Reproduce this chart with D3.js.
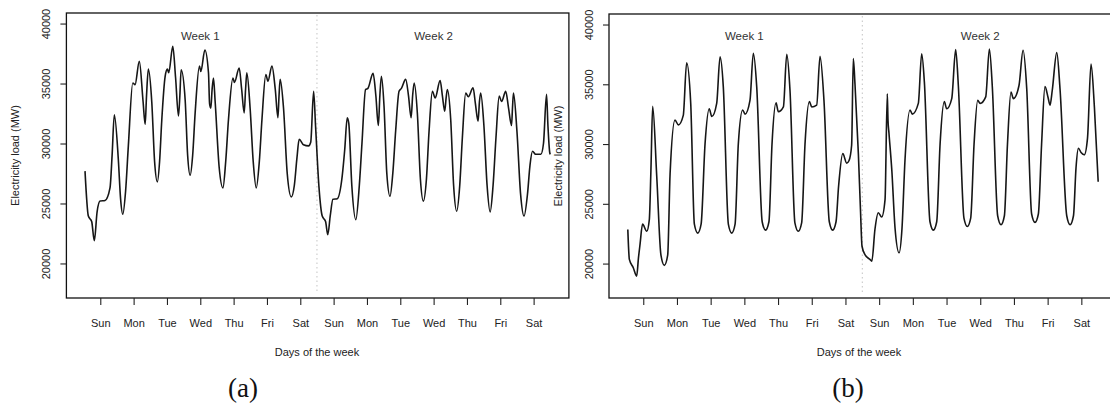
<!DOCTYPE html>
<html>
<head>
<meta charset="utf-8">
<script src="https://cdn.jsdelivr.net/npm/d3@7"></script>
<style>
  body { margin: 0; background: #fff; }
  svg text { font-family: "Liberation Sans", Arial, sans-serif; fill: #222; }
  svg text.tag { font-family: "Liberation Serif", "DejaVu Serif", serif; fill: #111; }
</style>
</head>
<body>
<svg id="chart" width="1110" height="408"></svg>
<script>
// ---- data ---------------------------------------------------------------
const weekdays = ["Sun", "Mon", "Tue", "Wed", "Thu", "Fri", "Sat"];
const weekLabels = ["Week 1", "Week 2"];
const yTickValues = [20000, 25000, 30000, 35000, 40000];
const panelTags = ["(a)", "(b)"];

// (a) hourly electricity load over two weeks: hour index, load in MW
const hoursA = [
  1.0, 3.4, 5.8, 7.7, 9.7, 11.8, 15.4, 19.0, 20.5, 22.1, 25.0, 26.6, 28.2, 30.2, 32.2, 35.4, 37.0, 40.1,
  42.8, 44.3, 45.3, 46.6, 49.1, 51.1, 53.1, 54.7, 56.3, 58.7, 60.3, 61.3, 64.2, 66.2, 68.3, 69.3, 70.2,
  73.1, 74.9, 76.7, 78.5, 80.3, 83.4, 84.4, 87.3, 89.9, 90.7, 91.6, 92.5, 93.5, 94.7, 97.6, 100.3, 102.3,
  104.3, 107.5, 108.6, 112.0, 113.8, 115.6, 116.6, 117.5, 119.9, 122.1, 124.3, 126.5, 128.4, 131.2, 132.7,
  135.6, 138.0, 139.9, 140.7, 141.5, 143.9, 146.6, 149.5, 151.7, 153.6, 155.2, 158.3, 162.0, 163.5, 165.6,
  167.0, 169.4, 171.8, 174.2, 175.8, 177.6, 179.5, 182.6, 186.2, 188.0, 189.8, 190.9, 193.1, 196.0, 198.5,
  200.4, 203.0, 204.7, 208.4, 210.4, 212.2, 213.3, 214.4, 216.3, 218.3, 220.6, 222.6, 224.7, 227.1, 228.8,
  231.9, 233.9, 235.8, 236.9, 238.0, 240.3, 242.5, 244.6, 246.8, 248.7, 251.1, 253.1, 256.7, 258.3, 260.0,
  261.0, 261.9, 264.3, 266.4, 268.6, 270.8, 272.7, 275.1, 277.0, 280.4, 282.1, 284.0, 285.0, 285.9, 288.2,
  290.5, 292.7, 294.8, 296.9, 299.2, 300.9, 303.9, 305.9, 308.1, 308.8, 309.5, 312.0, 314.6, 317.1, 319.6,
  321.4, 323.2, 325.4, 329.2, 331.1, 333.3, 334.3, 335.6, 336.0
];
const loadA = [
  27700, 23950, 23500, 21900, 24300, 25200, 25250, 26300, 29000, 32400, 28650, 25400, 24100, 26000, 29800, 35050, 34900, 36850,
  33500, 31600, 34000, 36200, 33400, 28500, 26800, 28500, 32000, 35600, 36200, 35900, 38100, 35500, 32300, 34000, 36150,
  33650, 29000, 27350, 29000, 32550, 36450, 36000, 37800, 35900, 33300, 32950, 34500, 35450, 33500, 28000, 26300, 28500,
  32000, 35450, 35100, 36300, 34500, 32550, 34500, 35900, 32900, 28500, 26300, 28500, 32000, 35750, 35200,
  36450, 34500, 32150, 34000, 35350, 33000, 27500, 25550, 26500, 28800, 30350, 29900, 29800, 30100, 34350,
  31450, 26450, 23950, 23500, 22400, 24000, 25350, 25400, 27300, 29500, 32150, 31700, 26500, 23650, 26500,
  30000, 34500, 34600, 35850, 34000, 31500, 34000, 35600, 33100, 27500, 25600, 27500, 31100, 34350, 34600,
  35350, 34000, 32150, 34000, 35050, 32500, 27000, 25200, 27000, 31000, 34350, 33800, 35250, 34000, 32700,
  33800, 34500, 32000, 26500, 24350, 26500, 30500, 34200, 33900, 34650, 33300, 31850, 33500, 34200, 31500,
  26500, 24300, 26500, 30500, 33950, 33500, 34350, 33000, 31500, 33000, 34200, 31000, 25800, 23950, 25800,
  28200, 29350, 29100, 29100, 30000, 34100, 31500, 29250, 29100
];

// (b) hourly electricity load over two weeks: hour index, load in MW
const hoursB = [
  1.0, 2.1, 4.9, 7.3, 8.6, 9.7, 11.5, 14.5, 16.3, 17.5, 18.7, 21.6, 24.6, 27.0, 29.4, 31.1, 34.6, 37.0, 40.5,
  42.9, 45.8, 48.4, 50.8, 53.2, 56.0, 59.0, 60.8, 64.3, 66.7, 69.0, 72.6, 75.0, 77.4, 79.7, 82.8, 84.5,
  88.0, 90.4, 92.8, 96.7, 99.1, 101.5, 103.7, 106.6, 108.2, 111.8, 114.2, 116.5, 120.0, 122.4, 124.8,
  127.2, 130.3, 132.0, 135.5, 137.9, 140.7, 144.5, 146.9, 149.3, 151.1, 154.1, 156.9, 158.5, 160.4, 161.6,
  162.8, 165.2, 166.7, 167.8, 169.9, 173.4, 174.8, 177.0, 179.4, 181.8, 184.2, 185.8, 186.3, 187.0, 189.0,
  191.3, 194.2, 196.3, 198.4, 202.0, 203.6, 207.9, 210.3, 212.2, 216.2, 218.6, 221.0, 223.4, 226.4, 228.1,
  231.7, 234.5, 236.4, 240.4, 242.8, 245.2, 247.6, 250.2, 251.9, 255.9, 258.5, 260.6, 264.4, 266.8, 269.2,
  271.4, 273.9, 275.6, 279.6, 282.5, 285.1, 288.6, 291.0, 293.4, 295.7, 298.1, 300.3, 301.7, 303.3, 306.5,
  308.8, 313.6, 316.0, 318.4, 320.2, 321.9, 323.8, 326.1, 328.4, 330.9, 333.3, 336.0
];
const loadB = [
  22850, 20350, 19650, 18950, 20500, 21600, 23300, 22700, 23650, 28000, 33150, 27300, 20700, 19850, 20700, 27500, 32000, 31600, 32400,
  36800, 33400, 23300, 22550, 23300, 30000, 32950, 32300, 33400, 37300, 34800, 23300, 22550, 23300, 30000, 32850, 32500,
  33650, 37600, 34800, 23500, 22800, 23500, 30000, 33450, 32700, 33100, 37500, 34500, 23400, 22700, 23400,
  30000, 33550, 33100, 33250, 37350, 33650, 23500, 22800, 23500, 26450, 29200, 28400, 28600, 29900, 37150,
  35000, 29200, 24500, 21450, 20750, 20350, 20200, 22850, 24250, 23900, 25350, 34200, 32000, 30900, 27850,
  23000, 20900, 23000, 28650, 32850, 32500, 33400, 37550, 35200, 23500, 22800, 23500, 30000, 33550, 32950,
  33800, 37900, 34900, 23800, 23100, 23800, 30000, 33650, 33400, 33950, 37950, 34800, 24000, 23250, 24000,
  30000, 34350, 33800, 34900, 37850, 34650, 24150, 23450, 24150, 30000, 34800, 33900, 33250, 34500, 37650,
  34650, 24000, 23250, 24000, 28000, 29650, 29300, 29100, 30500, 36700, 33100, 26850
];

// ---- layout -------------------------------------------------------------
const svg = d3.select("#chart");
const hourDomain = [-12.4, 349.4];
const loadDomain = [17120, 40880];
const tickHours = d3.range(14).map(i => 12 + 24 * i);
const tickNames = tickHours.map((h, i) => weekdays[i % 7]);
const weekCentres = [84, 252];
const weekLabelLoad = 39000;
const boundaryHour = 168;

const panels = [
  { tag: panelTags[0], hours: hoursA, load: loadA, left: 66.4, right: 568.9, top: 13, bottom: 298, tagX: 243, titleX: 317 },
  { tag: panelTags[1], hours: hoursB, load: loadB, left: 609, right: 1117, top: 14, bottom: 298, tagX: 848, titleX: 859 }
];

panels.forEach(p => {
  const x = d3.scaleLinear().domain(hourDomain).range([p.left, p.right]);
  const y = d3.scaleLinear().domain(loadDomain).range([p.bottom, p.top]);
  const g = svg.append("g");

  // week separator
  g.append("line")
    .attr("x1", x(boundaryHour)).attr("x2", x(boundaryHour))
    .attr("y1", p.top + 2).attr("y2", p.bottom - 4)
    .attr("stroke", "#c4c4c4").attr("stroke-width", 1)
    .attr("stroke-dasharray", "1.5,3");

  // load curve
  const series = p.hours.map((h, i) => [h, p.load[i]]);
  g.append("path")
    .datum(series)
    .attr("fill", "none")
    .attr("stroke", "#161616")
    .attr("stroke-width", 1.6)
    .attr("stroke-linejoin", "round")
    .attr("d", d3.line().x(d => x(d[0])).y(d => y(d[1])).curve(d3.curveMonotoneX));

  // week captions
  weekLabels.forEach((w, i) => {
    g.append("text")
      .attr("x", x(weekCentres[i])).attr("y", y(weekLabelLoad))
      .attr("text-anchor", "middle").attr("dominant-baseline", "central")
      .attr("font-size", 11.5)
      .style("fill", "#333")
      .text(w);
  });

  // frame
  g.append("rect")
    .attr("x", p.left).attr("y", p.top)
    .attr("width", p.right - p.left).attr("height", p.bottom - p.top)
    .attr("fill", "none").attr("stroke", "#111").attr("stroke-width", 1.3);

  // x axis
  const xAxis = g.append("g")
    .attr("transform", `translate(0,${p.bottom})`)
    .call(d3.axisBottom(x).tickValues(tickHours).tickFormat((d, i) => tickNames[i]).tickSize(7).tickSizeOuter(0));
  xAxis.select(".domain").remove();
  xAxis.selectAll(".tick line").attr("stroke", "#222").attr("stroke-width", 1.1);
  xAxis.selectAll(".tick text")
    .attr("y", 29).attr("dy", 0)
    .attr("font-size", 11);

  // y axis
  const yAxis = g.append("g")
    .attr("transform", `translate(${p.left},0)`)
    .call(d3.axisLeft(y).tickValues(yTickValues).tickFormat(d3.format("d")).tickSize(6).tickSizeOuter(0));
  yAxis.select(".domain").remove();
  yAxis.selectAll(".tick line").attr("stroke", "#222").attr("stroke-width", 1.1);
  yAxis.selectAll(".tick text")
    .attr("x", 0).attr("y", 0).attr("dy", 0)
    .attr("transform", "translate(-16,0) rotate(-90)")
    .attr("text-anchor", "middle")
    .attr("font-size", 11);

  // axis titles
  g.append("text")
    .attr("transform", `translate(${p.left - 47},${(p.top + p.bottom) / 2}) rotate(-90)`)
    .attr("text-anchor", "middle").attr("font-size", 11)
    .text("Electricity load (MW)");
  g.append("text")
    .attr("x", p.titleX).attr("y", 356)
    .attr("text-anchor", "middle").attr("font-size", 11)
    .text("Days of the week");

  // panel tag
  g.append("text")
    .attr("class", "tag")
    .attr("x", p.tagX).attr("y", 397)
    .attr("text-anchor", "middle")
    .attr("font-size", 27)
    .text(p.tag);
});
</script>
</body>
</html>
